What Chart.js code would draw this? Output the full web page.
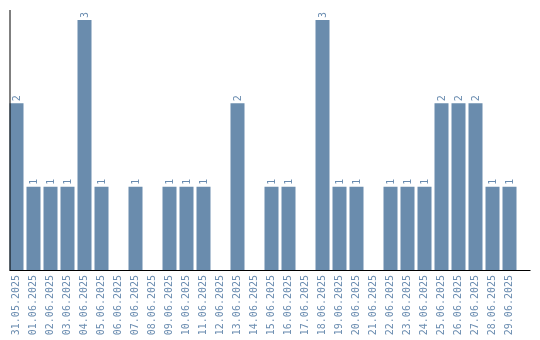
<!DOCTYPE html>
<html>
<head>
<meta charset="utf-8">
<script src="https://cdn.jsdelivr.net/npm/chart.js@4"></script>
<style>
  html, body { margin: 0; padding: 0; background: #fff; }
  #wrap { width: 540px; height: 340px; position: relative; }
</style>
</head>
<body>
<div id="wrap"><canvas id="c" width="540" height="340"></canvas></div>
<script>
const categories = [
  "31.05.2025","01.06.2025","02.06.2025","03.06.2025","04.06.2025","05.06.2025",
  "06.06.2025","07.06.2025","08.06.2025","09.06.2025","10.06.2025","11.06.2025",
  "12.06.2025","13.06.2025","14.06.2025","15.06.2025","16.06.2025","17.06.2025",
  "18.06.2025","19.06.2025","20.06.2025","21.06.2025","22.06.2025","23.06.2025",
  "24.06.2025","25.06.2025","26.06.2025","27.06.2025","28.06.2025","29.06.2025"
];
const counts = [2,1,1,1,3,1,0,1,0,1,1,1,0,2,0,1,1,0,3,1,1,0,1,1,1,2,2,2,1,1];
const yMax = 3.12;

const barColor = "#6a8cad";
const textColor = "#6a8cb0";
const monoFont = "'DejaVu Sans Mono', 'Liberation Mono', monospace";

const axesAndLabels = {
  id: "axesAndLabels",
  afterDatasetsDraw(chart) {
    const ctx = chart.ctx;
    const a = chart.chartArea;
    ctx.save();
    // value labels, rotated
    const meta = chart.getDatasetMeta(0);
    ctx.fillStyle = textColor;
    ctx.font = "10px " + monoFont;
    ctx.textAlign = "left";
    ctx.textBaseline = "middle";
    meta.data.forEach((bar, i) => {
      const v = chart.data.datasets[0].data[i];
      if (!v) return;
      ctx.save();
      ctx.translate(bar.x + 1, bar.y - 2);
      ctx.rotate(-Math.PI / 2);
      ctx.fillText(String(v), 0, 0);
      ctx.restore();
    });
    // axis lines
    ctx.strokeStyle = "#000";
    ctx.lineWidth = 1;
    ctx.beginPath();
    ctx.moveTo(a.left + 2, a.top);
    ctx.lineTo(a.left + 2, a.bottom + 0.5);
    ctx.moveTo(a.left + 1.5, a.bottom + 0.5);
    ctx.lineTo(a.right + 12.5, a.bottom + 0.5);
    ctx.stroke();
    ctx.restore();
  }
};

new Chart(document.getElementById("c"), {
  type: "bar",
  data: {
    labels: categories,
    datasets: [{
      data: counts,
      backgroundColor: barColor,
      borderWidth: 0,
      barPercentage: 14 / 17,
      categoryPercentage: 1
    }]
  },
  options: {
    responsive: false,
    animation: false,
    devicePixelRatio: 1,
    layout: { padding: { left: 8, right: 22, top: 10, bottom: 0 } },
    plugins: { legend: { display: false }, tooltip: { enabled: false } },
    scales: {
      x: {
        offset: true,
        grid: { display: false, drawTicks: false },
        border: { display: false },
        ticks: {
          autoSkip: false,
          minRotation: 90,
          maxRotation: 90,
          padding: 5,
          color: textColor,
          font: { family: monoFont, size: 10 }
        },
        afterFit(scale) { scale.height = 70; }
      },
      y: {
        display: false,
        min: 0,
        max: yMax
      }
    }
  },
  plugins: [axesAndLabels]
});
</script>
</body>
</html>
